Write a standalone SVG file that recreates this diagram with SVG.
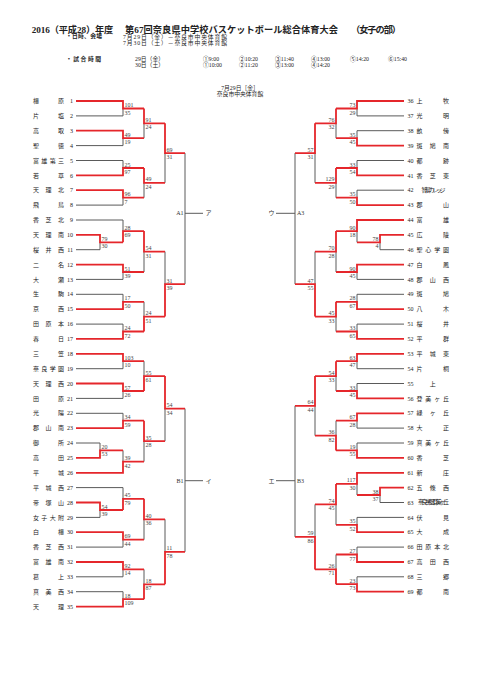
<svg xmlns="http://www.w3.org/2000/svg" width="481" height="680" viewBox="0 0 481 680">
<style>
text{font-family:"Liberation Serif","Noto Sans CJK JP",serif;fill:#222}
.h1{font-size:9.2px;font-weight:bold}
.s{font-size:5.8px}
.sb{font-size:5.8px;font-weight:bold}
.n{font-size:6px}
.nl{font-size:6px;text-anchor:end}
.sc{font-size:6px;fill:#444}
.sr{font-size:6px;fill:#444;text-anchor:end}
.lab{font-size:6px;fill:#333}
.g{fill:none;stroke:#5a5a5a;stroke-width:1}
.r{fill:none;stroke:#e5262b;stroke-width:1.8}
</style>
<rect width="481" height="680" fill="#fff"/>
<g id="header">
<text class="h1" x="31.7" y="32.5" textLength="81.6">2016（平成28）年度</text>
<text class="h1" x="125" y="32.5" textLength="213">第67回奈良県中学校バスケットボール総合体育大会</text>
<text class="h1" x="351" y="32.5" textLength="50">（女子の部）</text>
<text class="sb" x="66" y="38" textLength="36">・日時、会場</text>
<text class="s" x="123" y="38.8" textLength="104">7月29日（金）－奈良市中央体育館</text>
<text class="s" x="123" y="45.4" textLength="104">7月30日（土）－奈良市中央体育館</text>
<text class="sb" x="66" y="60.5" textLength="35">・試合時間</text>
<text class="s" x="135" y="60.5">29日（金）</text>
<text class="s" x="135" y="66.5">30日（土）</text>
<text class="s" x="203" y="60.5">①9:00</text>
<text class="s" x="239" y="60.5">②10:20</text>
<text class="s" x="275" y="60.5">③11:40</text>
<text class="s" x="311" y="60.5">④13:00</text>
<text class="s" x="350" y="60.5">⑤14:20</text>
<text class="s" x="388" y="60.5">⑥15:40</text>
<text class="s" x="203" y="66.5">①10:00</text>
<text class="s" x="239" y="66.5">②11:20</text>
<text class="s" x="275" y="66.5">③13:00</text>
<text class="s" x="311" y="66.5">④14:20</text>
<text class="s" x="240" y="89.6" text-anchor="middle">7月29日［金］</text>
<text class="s" x="240" y="96.3" text-anchor="middle">奈良市中央体育館</text>
</g>
<g id="connectors">
<path class="g" d="M76,115.9H123M76,145.6H123M76,160.5H123M76,205.1H123M76,220H123M76,249.7H100M76,279.4H123M76,294.3H123M76,324.1H123M76,368.7H123M76,398.4H123M76,413.3H123M76,443H100M76,487.6H123M76,517.4H100M76,547.1H123M76,576.8H123M76,591.7H123
M123,115.9V108.5M123,145.6V138.2M144,138.2V123.3M123,160.5V168M123,205.1V197.7M144,197.7V182.8M165,182.8V153.1M100,249.7V242.3M123,220V231.1M123,279.4V272M144,272V251.6M123,294.3V301.8M123,324.1V331.5M144,301.8V316.6M165,251.6V284.1
M123,368.7V361.2M123,398.4V391M144,361.2V376.1M123,413.3V420.7M100,443V450.4M123,450.4V461.6M144,461.6V441.2M165,441.2V408.6M100,517.4V510M123,487.6V498.8M123,547.1V539.7M144,539.7V519.3M123,576.8V569.4M123,591.7V599.2M144,569.4V584.3M165,519.3V551.8
M185,153.1V284.1M185,213.3H203M185,408.6V551.8M185,480.7H203"/>
<path class="g" d="M404,115.9H357M404,130.7H357M404,160.5H357M404,190.2H357M404,249.7H380M404,279.4H357M404,294.3H357M404,324.1H357M404,368.7H357M404,383.5H357M404,428.1H357M404,443H357M404,502.5H380M404,517.4H357M404,547.1H357M404,576.8H357
M357,115.9V108.5M357,130.7V138.2M336,138.2V123.3M357,160.5V168M357,190.2V197.7M336,197.7V182.8M315,182.8V153.1M380,249.7V242.3M357,242.3V231.1M357,279.4V272M336,272V251.6M357,294.3V301.8M357,324.1V331.5M336,331.5V316.6M315,251.6V284.1
M357,368.7V361.2M357,383.5V391M336,391V376.1M357,428.1V420.7M357,443V450.4M336,420.7V435.6M315,435.6V405.8M380,502.5V495M357,495V483.9M357,517.4V524.8M336,524.8V504.4M357,547.1V554.5M357,576.8V584.2M336,554.5V569.4M315,504.4V536.9
M295,153.1V284.1M295,213.3H276M295,405.8V536.9M295,480.7H276"/>
<path class="r" d="M76,101H123V108.5H144M76,130.7H123V138.2H144M144,108.5V123.3H165M76,175.4H123V168H144M76,190.2H123V197.7H144M144,168V182.8H165M165,123.3V153.1H185
M76,234.8H100V242.3H123M123,242.3V231.1H144M76,264.6H123V272H144M144,231.1V251.6H165M76,309.2H123V301.8H144M76,338.9H123V331.5H144M144,331.5V316.6H165M165,316.6V284.1H185
M76,353.8H123V361.2H144M76,383.5H123V391H144M144,391V376.1H165M76,428.1H123V420.7H144M76,457.9H100V450.4H123M76,472.8H123V461.6H144M144,420.7V441.2H165M165,376.1V408.6H185
M76,502.5H100V510H123M123,510V498.8H144M76,532.2H123V539.7H144M144,498.8V519.3H165M76,562H123V569.4H144M76,606.6H123V599.2H144M144,599.2V584.3H165M165,584.3V551.8H185"/>
<path class="r" d="M404,101H357V108.5H336M404,145.6H357V138.2H336M336,108.5V123.3H315M404,175.4H357V168H336M404,205.1H357V197.7H336M336,168V182.8H315M315,123.3V153.1H295
M404,234.8H380V242.3H357M404,220H357V231.1H336M404,264.6H357V272H336M336,231.1V251.6H315M404,309.2H357V301.8H336M404,338.9H357V331.5H336M336,301.8V316.6H315M315,316.6V284.1H295
M404,353.8H357V361.2H336M404,398.4H357V391H336M336,361.2V376.1H315M404,413.3H357V420.7H336M404,457.9H357V450.4H336M336,450.4V435.6H315M315,376.1V405.8H295
M404,487.6H380V495H357M404,472.8H357V483.9H336M404,532.2H357V524.8H336M336,483.9V504.4H315M404,562H357V554.5H336M404,591.7H357V584.2H336M336,584.2V569.4H315M315,569.4V536.9H295"/>
</g>
<g id="blocks">
<text class="lab" x="183.5" y="215.4" text-anchor="end">A1</text>
<text class="lab" x="205.5" y="215.4">ア</text>
<text class="lab" x="183.5" y="482.8" text-anchor="end">B1</text>
<text class="lab" x="205.5" y="482.8">イ</text>
<text class="lab" x="268.5" y="215.4">ウ</text>
<text class="lab" x="297" y="215.4">A3</text>
<text class="lab" x="268.5" y="482.8">エ</text>
<text class="lab" x="297" y="482.8">B3</text>
</g>
<g id="scores">
<text class="sc" x="124.5" y="107">101</text><text class="sc" x="124.5" y="114.5">35</text>
<text class="sc" x="124.5" y="136.7">49</text><text class="sc" x="124.5" y="144.2">19</text>
<text class="sc" x="145.5" y="121.8">91</text><text class="sc" x="145.5" y="129.3">24</text>
<text class="sc" x="124.5" y="166.5">25</text><text class="sc" x="124.5" y="174">97</text>
<text class="sc" x="124.5" y="196.2">96</text><text class="sc" x="124.5" y="203.7">7</text>
<text class="sc" x="145.5" y="181.3">49</text><text class="sc" x="145.5" y="188.8">24</text>
<text class="sc" x="166.5" y="151.6">69</text><text class="sc" x="166.5" y="159.1">31</text>
<text class="sc" x="101.5" y="240.8">79</text><text class="sc" x="101.5" y="248.3">30</text>
<text class="sc" x="124.5" y="229.6">28</text><text class="sc" x="124.5" y="237.1">69</text>
<text class="sc" x="124.5" y="270.5">51</text><text class="sc" x="124.5" y="278">39</text>
<text class="sc" x="145.5" y="250.1">54</text><text class="sc" x="145.5" y="257.6">31</text>
<text class="sc" x="124.5" y="300.3">17</text><text class="sc" x="124.5" y="307.8">50</text>
<text class="sc" x="124.5" y="330">24</text><text class="sc" x="124.5" y="337.5">72</text>
<text class="sc" x="145.5" y="315.1">24</text><text class="sc" x="145.5" y="322.6">51</text>
<text class="sc" x="166.5" y="282.6">31</text><text class="sc" x="166.5" y="290.1">39</text>
<text class="sc" x="124.5" y="359.7">103</text><text class="sc" x="124.5" y="367.2">10</text>
<text class="sc" x="124.5" y="389.5">57</text><text class="sc" x="124.5" y="397">26</text>
<text class="sc" x="145.5" y="374.6">55</text><text class="sc" x="145.5" y="382.1">61</text>
<text class="sc" x="124.5" y="419.2">34</text><text class="sc" x="124.5" y="426.7">59</text>
<text class="sc" x="101.5" y="448.9">20</text><text class="sc" x="101.5" y="456.4">53</text>
<text class="sc" x="124.5" y="460.1">39</text><text class="sc" x="124.5" y="467.6">42</text>
<text class="sc" x="145.5" y="439.7">35</text><text class="sc" x="145.5" y="447.2">28</text>
<text class="sc" x="166.5" y="407.1">54</text><text class="sc" x="166.5" y="414.6">34</text>
<text class="sc" x="101.5" y="508.5">54</text><text class="sc" x="101.5" y="516">39</text>
<text class="sc" x="124.5" y="497.3">45</text><text class="sc" x="124.5" y="504.8">79</text>
<text class="sc" x="124.5" y="538.2">69</text><text class="sc" x="124.5" y="545.7">44</text>
<text class="sc" x="145.5" y="517.8">40</text><text class="sc" x="145.5" y="525.3">36</text>
<text class="sc" x="124.5" y="567.9">92</text><text class="sc" x="124.5" y="575.4">14</text>
<text class="sc" x="124.5" y="597.7">18</text><text class="sc" x="124.5" y="605.2">109</text>
<text class="sc" x="145.5" y="582.8">18</text><text class="sc" x="145.5" y="590.3">87</text>
<text class="sc" x="166.5" y="550.3">11</text><text class="sc" x="166.5" y="557.8">78</text>
<text class="sr" x="355.5" y="107">73</text><text class="sr" x="355.5" y="114.5">29</text>
<text class="sr" x="355.5" y="136.7">35</text><text class="sr" x="355.5" y="144.2">45</text>
<text class="sr" x="334.5" y="121.8">76</text><text class="sr" x="334.5" y="129.3">32</text>
<text class="sr" x="355.5" y="166.5">33</text><text class="sr" x="355.5" y="174">54</text>
<text class="sr" x="355.5" y="196.2">35</text><text class="sr" x="355.5" y="203.7">50</text>
<text class="sr" x="334.5" y="181.3">129</text><text class="sr" x="334.5" y="188.8">29</text>
<text class="sr" x="313.5" y="151.6">57</text><text class="sr" x="313.5" y="159.1">31</text>
<text class="sr" x="378.5" y="240.8">78</text><text class="sr" x="378.5" y="248.3">4</text>
<text class="sr" x="355.5" y="229.6">90</text><text class="sr" x="355.5" y="237.1">18</text>
<text class="sr" x="355.5" y="270.5">90</text><text class="sr" x="355.5" y="278">45</text>
<text class="sr" x="334.5" y="250.1">70</text><text class="sr" x="334.5" y="257.6">28</text>
<text class="sr" x="355.5" y="300.3">28</text><text class="sr" x="355.5" y="307.8">67</text>
<text class="sr" x="355.5" y="330">33</text><text class="sr" x="355.5" y="337.5">65</text>
<text class="sr" x="334.5" y="315.1">45</text><text class="sr" x="334.5" y="322.6">33</text>
<text class="sr" x="313.5" y="282.6">47</text><text class="sr" x="313.5" y="290.1">55</text>
<text class="sr" x="355.5" y="359.7">63</text><text class="sr" x="355.5" y="367.2">47</text>
<text class="sr" x="355.5" y="389.5">33</text><text class="sr" x="355.5" y="397">45</text>
<text class="sr" x="334.5" y="374.6">54</text><text class="sr" x="334.5" y="382.1">33</text>
<text class="sr" x="355.5" y="419.2">67</text><text class="sr" x="355.5" y="426.7">28</text>
<text class="sr" x="355.5" y="448.9">19</text><text class="sr" x="355.5" y="456.4">55</text>
<text class="sr" x="334.5" y="434.1">36</text><text class="sr" x="334.5" y="441.6">82</text>
<text class="sr" x="313.5" y="404.3">64</text><text class="sr" x="313.5" y="411.8">44</text>
<text class="sr" x="378.5" y="493.5">38</text><text class="sr" x="378.5" y="501">37</text>
<text class="sr" x="355.5" y="482.4">117</text><text class="sr" x="355.5" y="489.9">30</text>
<text class="sr" x="355.5" y="523.3">35</text><text class="sr" x="355.5" y="530.8">52</text>
<text class="sr" x="334.5" y="502.9">74</text><text class="sr" x="334.5" y="510.4">45</text>
<text class="sr" x="355.5" y="553">27</text><text class="sr" x="355.5" y="560.5">77</text>
<text class="sr" x="355.5" y="582.7">23</text><text class="sr" x="355.5" y="590.2">73</text>
<text class="sr" x="334.5" y="567.9">26</text><text class="sr" x="334.5" y="575.4">71</text>
<text class="sr" x="313.5" y="535.4">59</text><text class="sr" x="313.5" y="542.9">86</text>
</g>
<g id="t1"><text class="n" x="33 58" y="103.1">橿原</text><text class="nl" x="73" y="103.1">1</text></g>
<g id="t2"><text class="n" x="33 58" y="118">片塩</text><text class="nl" x="73" y="118">2</text></g>
<g id="t3"><text class="n" x="33 58" y="132.8">高取</text><text class="nl" x="73" y="132.8">3</text></g>
<g id="t4"><text class="n" x="33 58" y="147.7">聖徳</text><text class="nl" x="73" y="147.7">4</text></g>
<g id="t5"><text class="n" x="33 41.3 49.7 58" y="162.6">富雄第三</text><text class="nl" x="73" y="162.6">5</text></g>
<g id="t6"><text class="n" x="33 58" y="177.5">若草</text><text class="nl" x="73" y="177.5">6</text></g>
<g id="t7"><text class="n" x="33 45.5 58" y="192.3">天理北</text><text class="nl" x="73" y="192.3">7</text></g>
<g id="t8"><text class="n" x="33 58" y="207.2">飛鳥</text><text class="nl" x="73" y="207.2">8</text></g>
<g id="t9"><text class="n" x="33 45.5 58" y="222.1">香芝北</text><text class="nl" x="73" y="222.1">9</text></g>
<g id="t10"><text class="n" x="33 45.5 58" y="236.9">天理南</text><text class="nl" x="73" y="236.9">10</text></g>
<g id="t11"><text class="n" x="33 45.5 58" y="251.8">桜井西</text><text class="nl" x="73" y="251.8">11</text></g>
<g id="t12"><text class="n" x="33 58" y="266.7">二名</text><text class="nl" x="73" y="266.7">12</text></g>
<g id="t13"><text class="n" x="33 58" y="281.5">大瀬</text><text class="nl" x="73" y="281.5">13</text></g>
<g id="t14"><text class="n" x="33 58" y="296.4">生駒</text><text class="nl" x="73" y="296.4">14</text></g>
<g id="t15"><text class="n" x="33 58" y="311.3">京西</text><text class="nl" x="73" y="311.3">15</text></g>
<g id="t16"><text class="n" x="33 45.5 58" y="326.2">田原本</text><text class="nl" x="73" y="326.2">16</text></g>
<g id="t17"><text class="n" x="33 58" y="341">春日</text><text class="nl" x="73" y="341">17</text></g>
<g id="t18"><text class="n" x="33 58" y="355.9">三笠</text><text class="nl" x="73" y="355.9">18</text></g>
<g id="t19"><text class="n" x="33 41.3 49.7 58" y="370.8">奈良学園</text><text class="nl" x="73" y="370.8">19</text></g>
<g id="t20"><text class="n" x="33 45.5 58" y="385.6">天理西</text><text class="nl" x="73" y="385.6">20</text></g>
<g id="t21"><text class="n" x="33 58" y="400.5">田原</text><text class="nl" x="73" y="400.5">21</text></g>
<g id="t22"><text class="n" x="33 58" y="415.4">光陽</text><text class="nl" x="73" y="415.4">22</text></g>
<g id="t23"><text class="n" x="33 45.5 58" y="430.2">郡山南</text><text class="nl" x="73" y="430.2">23</text></g>
<g id="t24"><text class="n" x="33 58" y="445.1">御所</text><text class="nl" x="73" y="445.1">24</text></g>
<g id="t25"><text class="n" x="33 58" y="460">高田</text><text class="nl" x="73" y="460">25</text></g>
<g id="t26"><text class="n" x="33 58" y="474.9">平城</text><text class="nl" x="73" y="474.9">26</text></g>
<g id="t27"><text class="n" x="33 45.5 58" y="489.7">平城西</text><text class="nl" x="73" y="489.7">27</text></g>
<g id="t28"><text class="n" x="33 45.5 58" y="504.6">帝塚山</text><text class="nl" x="73" y="504.6">28</text></g>
<g id="t29"><text class="n" x="33 41.3 49.7 58" y="519.5">女子大附</text><text class="nl" x="73" y="519.5">29</text></g>
<g id="t30"><text class="n" x="33 58" y="534.3">白橿</text><text class="nl" x="73" y="534.3">30</text></g>
<g id="t31"><text class="n" x="33 45.5 58" y="549.2">香芝西</text><text class="nl" x="73" y="549.2">31</text></g>
<g id="t32"><text class="n" x="33 45.5 58" y="564.1">富雄南</text><text class="nl" x="73" y="564.1">32</text></g>
<g id="t33"><text class="n" x="33 58" y="578.9">葛上</text><text class="nl" x="73" y="578.9">33</text></g>
<g id="t34"><text class="n" x="33 45.5 58" y="593.8">真美西</text><text class="nl" x="73" y="593.8">34</text></g>
<g id="t35"><text class="n" x="33 58" y="608.7">天理</text><text class="nl" x="73" y="608.7">35</text></g>
<g id="t36"><text class="n" x="407.5" y="103.1">36</text><text class="n" x="416.5 443" y="103.1">上牧</text></g>
<g id="t37"><text class="n" x="407.5" y="118">37</text><text class="n" x="416.5 443" y="118">光明</text></g>
<g id="t38"><text class="n" x="407.5" y="132.8">38</text><text class="n" x="416.5 443" y="132.8">畝傍</text></g>
<g id="t39"><text class="n" x="407.5" y="147.7">39</text><text class="n" x="416.5 429.8 443" y="147.7">斑鳩南</text></g>
<g id="t40"><text class="n" x="407.5" y="162.6">40</text><text class="n" x="416.5 443" y="162.6">都跡</text></g>
<g id="t41"><text class="n" x="407.5" y="177.5">41</text><text class="n" x="416.5 429.8 443" y="177.5">香芝東</text></g>
<g id="t42"><text class="n" x="407.5" y="192.3">42</text><text class="n" x="421.5" y="192" font-size="4" textLength="24">智辯カレッジ</text></g>
<g id="t43"><text class="n" x="407.5" y="207.2">43</text><text class="n" x="416.5 443" y="207.2">郡山</text></g>
<g id="t44"><text class="n" x="407.5" y="222.1">44</text><text class="n" x="416.5 443" y="222.1">富雄</text></g>
<g id="t45"><text class="n" x="407.5" y="236.9">45</text><text class="n" x="416.5 443" y="236.9">広陵</text></g>
<g id="t46"><text class="n" x="407.5" y="251.8">46</text><text class="n" x="416.5 425.3 434.2 443" y="251.8">聖心学園</text></g>
<g id="t47"><text class="n" x="407.5" y="266.7">47</text><text class="n" x="416.5 443" y="266.7">白鳳</text></g>
<g id="t48"><text class="n" x="407.5" y="281.5">48</text><text class="n" x="416.5 429.8 443" y="281.5">郡山西</text></g>
<g id="t49"><text class="n" x="407.5" y="296.4">49</text><text class="n" x="416.5 443" y="296.4">斑鳩</text></g>
<g id="t50"><text class="n" x="407.5" y="311.3">50</text><text class="n" x="416.5 443" y="311.3">八木</text></g>
<g id="t51"><text class="n" x="407.5" y="326.2">51</text><text class="n" x="416.5 443" y="326.2">桜井</text></g>
<g id="t52"><text class="n" x="407.5" y="341">52</text><text class="n" x="416.5 443" y="341">平群</text></g>
<g id="t53"><text class="n" x="407.5" y="355.9">53</text><text class="n" x="416.5 429.8 443" y="355.9">平城東</text></g>
<g id="t54"><text class="n" x="407.5" y="370.8">54</text><text class="n" x="416.5 443" y="370.8">片桐</text></g>
<g id="t55"><text class="n" x="407.5" y="385.6">55</text><text class="n" x="429.8" y="385.6">上</text></g>
<g id="t56"><text class="n" x="407.5" y="400.5">56</text><text class="n" x="416.5 425.3 434.2 443" y="400.5">登美ヶ丘</text></g>
<g id="t57"><text class="n" x="407.5" y="415.4">57</text><text class="n" x="416.5 429.8 443" y="415.4">緑ヶ丘</text></g>
<g id="t58"><text class="n" x="407.5" y="430.2">58</text><text class="n" x="416.5 443" y="430.2">大正</text></g>
<g id="t59"><text class="n" x="407.5" y="445.1">59</text><text class="n" x="416.5 425.3 434.2 443" y="445.1">真美ヶ丘</text></g>
<g id="t60"><text class="n" x="407.5" y="460">60</text><text class="n" x="416.5 443" y="460">香芝</text></g>
<g id="t61"><text class="n" x="407.5" y="474.9">61</text><text class="n" x="416.5 443" y="474.9">新庄</text></g>
<g id="t62"><text class="n" x="407.5" y="489.7">62</text><text class="n" x="416.5 429.8 443" y="489.7">五條西</text></g>
<g id="t63"><text class="n" x="407.5" y="504.6">63</text><text class="n" x="418" y="504.3" font-size="4" textLength="31">奈良学園登美ヶ丘</text></g>
<g id="t64"><text class="n" x="407.5" y="519.5">64</text><text class="n" x="416.5 443" y="519.5">伏見</text></g>
<g id="t65"><text class="n" x="407.5" y="534.3">65</text><text class="n" x="416.5 443" y="534.3">大成</text></g>
<g id="t66"><text class="n" x="407.5" y="549.2">66</text><text class="n" x="416.5 425.3 434.2 443" y="549.2">田原本北</text></g>
<g id="t67"><text class="n" x="407.5" y="564.1">67</text><text class="n" x="416.5 429.8 443" y="564.1">高田西</text></g>
<g id="t68"><text class="n" x="407.5" y="578.9">68</text><text class="n" x="416.5 443" y="578.9">三郷</text></g>
<g id="t69"><text class="n" x="407.5" y="593.8">69</text><text class="n" x="416.5 443" y="593.8">都南</text></g>
</svg>
